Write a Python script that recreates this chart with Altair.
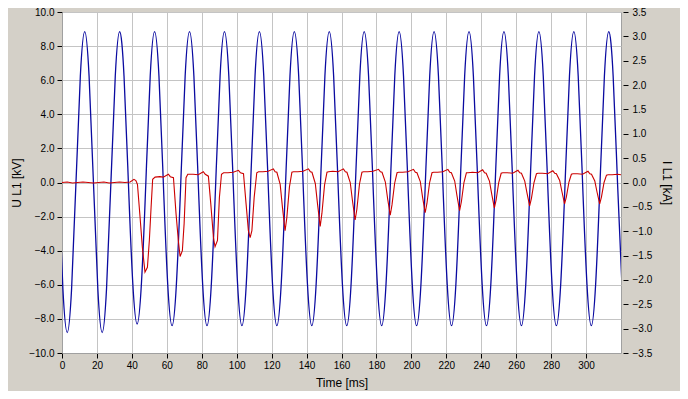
import altair as alt
import pandas as pd

# ---- Voltage U L1 [kV] (blue), samples every 2.5 ms ----
u_time = [
    -2, 0.5, 3, 5.5, 8, 10.5, 13, 15.5,
    18, 20.5, 23, 25.5, 28, 30.5, 33, 35.5,
    38, 40.5, 43, 45.5, 48, 50.5, 53, 55.5,
    58, 60.5, 63, 65.5, 68, 70.5, 73, 75.5,
    78, 80.5, 83, 85.5, 88, 90.5, 93, 95.5,
    98, 100.5, 103, 105.5, 108, 110.5, 113, 115.5,
    118, 120.5, 123, 125.5, 128, 130.5, 133, 135.5,
    138, 140.5, 143, 145.5, 148, 150.5, 153, 155.5,
    158, 160.5, 163, 165.5, 168, 170.5, 173, 175.5,
    178, 180.5, 183, 185.5, 188, 190.5, 193, 195.5,
    198, 200.5, 203, 205.5, 208, 210.5, 213, 215.5,
    218, 220.5, 223, 225.5, 228, 230.5, 233, 235.5,
    238, 240.5, 243, 245.5, 248, 250.5, 253, 255.5,
    258, 260.5, 263, 265.5, 268, 270.5, 273, 275.5,
    278, 280.5, 283, 285.5, 288, 290.5, 293, 295.5,
    298, 300.5, 303, 305.5, 308, 310.5, 313, 315.5,
    318, 320.5,
]
u_value = [
    0, -6.22, -8.8, -6.22, 0, 6.25, 8.85, 6.25,
    0, -6.22, -8.8, -6.22, 0, 6.25, 8.85, 6.25,
    0, -5.87, -8.3, -5.87, 0, 6.25, 8.85, 6.25,
    0, -5.94, -8.4, -5.94, 0, 6.25, 8.85, 6.25,
    0, -5.94, -8.4, -5.94, 0, 6.25, 8.85, 6.25,
    0, -5.94, -8.4, -5.94, 0, 6.25, 8.85, 6.25,
    0, -5.94, -8.4, -5.94, 0, 6.25, 8.85, 6.25,
    0, -5.94, -8.4, -5.94, 0, 6.25, 8.85, 6.25,
    0, -5.94, -8.4, -5.94, 0, 6.25, 8.85, 6.25,
    0, -5.94, -8.4, -5.94, 0, 6.25, 8.85, 6.25,
    0, -5.94, -8.4, -5.94, 0, 6.25, 8.85, 6.25,
    0, -5.94, -8.4, -5.94, 0, 6.25, 8.85, 6.25,
    0, -5.94, -8.4, -5.94, 0, 6.25, 8.85, 6.25,
    0, -5.94, -8.4, -5.94, 0, 6.25, 8.85, 6.25,
    0, -5.94, -8.4, -5.94, 0, 6.25, 8.85, 6.25,
    0, -5.94, -8.4, -5.94, 0, 6.25, 8.85, 6.25,
    0, -5.94,
]

# ---- Current I L1 [kA] (red) ----
i_time = [
    0, 3, 6, 9, 12, 15, 18, 21, 24, 27, 30, 33, 36, 39,
    41.2, 42.3, 43.2, 44.7, 46.0, 47.5, 48.9, 50.0, 51.0, 51.9, 53.3, 56, 58,
    60.9, 62.0, 63.8, 65.3, 66.6, 67.6, 68.9, 69.9, 71.0, 72.0, 75, 78,
    80.9, 82.0, 83.8, 85.2, 86.7, 87.6, 89.0, 90.1, 91.3, 92.5, 95, 98,
    101.0, 102.2, 103.9, 105.4, 106.7, 107.7, 108.7, 110.0, 111.5, 112.5, 115, 118,
    121.0, 122.0, 123.0, 124.9, 126.2, 127.7, 128.7, 130.2, 131.6, 132.5, 135, 138,
    141.1, 142.2, 143.1, 145.0, 146.3, 147.8, 148.8, 150.3, 151.7, 152.6, 155, 158,
    161.1, 162.2, 163.1, 165.0, 166.3, 167.8, 168.8, 170.3, 171.7, 172.6, 175, 178,
    181.2, 182.3, 183.2, 185.1, 186.4, 187.9, 188.9, 190.4, 191.8, 192.7, 195, 198,
    201.2, 202.3, 203.2, 205.1, 206.4, 207.9, 208.9, 210.4, 211.8, 212.7, 215, 218,
    220.9, 222.0, 222.9, 224.8, 226.1, 227.6, 228.6, 230.1, 231.5, 232.4, 235, 238,
    240.8, 241.9, 242.8, 244.7, 246.0, 247.5, 248.5, 250.0, 251.4, 252.3, 255, 258,
    261.0, 262.1, 263.0, 264.9, 266.2, 267.7, 268.7, 270.2, 271.6, 272.5, 275, 278,
    281.0, 282.1, 283.0, 284.9, 286.2, 287.7, 288.7, 290.2, 291.6, 292.5, 295, 298,
    301.1, 302.2, 303.1, 305.0, 306.3, 307.8, 308.8, 310.3, 311.7, 312.6, 315, 318, 320,
]
i_value = [
    0, 0.01, -0.01, 0, 0.01, 0, -0.01, 0, 0.01, -0.01, 0, 0.01, 0, 0.01,
    0.065, 0.04, -0.04, -0.72, -1.33, -1.84, -1.74, -1.19, -0.51, 0.065, 0.11, 0.12, 0.11,
    0.17, 0.12, 0.10, -0.65, -1.19, -1.52, -1.40, -0.85, 0.10, 0.17, 0.17, 0.16,
    0.22, 0.17, 0.13, -0.45, -1.13, -1.32, -1.19, -0.31, 0.17, 0.20, 0.20, 0.21,
    0.25, 0.20, 0.18, -0.45, -0.99, -1.13, -0.99, -0.31, 0.20, 0.22, 0.22, 0.23,
    0.28, 0.22, 0.21, -0.04, -0.51, -0.99, -0.72, -0.09, 0.21, 0.22, 0.22, 0.23,
    0.28, 0.22, 0.21, -0.02, -0.45, -0.90, -0.63, -0.05, 0.21, 0.22, 0.23, 0.22,
    0.28, 0.22, 0.21, 0.0, -0.38, -0.77, -0.55, -0.03, 0.21, 0.22, 0.22, 0.23,
    0.27, 0.22, 0.21, 0.01, -0.33, -0.67, -0.46, -0.02, 0.20, 0.21, 0.21, 0.22,
    0.27, 0.21, 0.20, 0.02, -0.30, -0.62, -0.43, -0.01, 0.20, 0.21, 0.21, 0.22,
    0.27, 0.21, 0.20, 0.03, -0.27, -0.58, -0.40, 0.0, 0.20, 0.20, 0.21, 0.20,
    0.26, 0.20, 0.19, 0.03, -0.24, -0.52, -0.36, 0.0, 0.19, 0.20, 0.20, 0.19,
    0.25, 0.20, 0.19, 0.03, -0.22, -0.48, -0.33, 0.0, 0.18, 0.19, 0.19, 0.18,
    0.24, 0.19, 0.18, 0.04, -0.19, -0.44, -0.30, 0.01, 0.17, 0.18, 0.18, 0.17,
    0.23, 0.18, 0.17, 0.03, -0.20, -0.44, -0.30, 0.0, 0.15, 0.16, 0.16, 0.17, 0.16,
]

x_ticks = [0, 20, 40, 60, 80, 100, 120, 140, 160, 180, 200, 220, 240, 260, 280, 300]
u_ticks = [-10, -8, -6, -4, -2, 0, 2, 4, 6, 8, 10]
i_ticks = [-3.5, -3.0, -2.5, -2.0, -1.5, -1.0, -0.5, 0.0, 0.5, 1.0, 1.5, 2.0, 2.5, 3.0, 3.5]

u_df = pd.DataFrame({"t": u_time, "u": u_value})
i_df = pd.DataFrame({"t": i_time, "i": i_value})

FONT = "Liberation Sans"
PLOT_H = 341

x_enc = alt.X(
    "t:Q",
    scale=alt.Scale(domain=[0, 320], nice=False, zero=False),
    axis=alt.Axis(
        values=x_ticks, title="Time [ms]", grid=True, gridColor="#C4C4C4",
        domainColor="#A0A0A0", tickColor="black", tickSize=5, labelPadding=2,
        labelFlush=False, labelOverlap=False, titlePadding=7,
    ),
)

blue = alt.Chart(u_df).mark_line(
    color="#0A0AA0", strokeWidth=1.3, interpolate="natural", clip=True
).encode(
    x=x_enc,
    y=alt.Y(
        "u:Q",
        scale=alt.Scale(domain=[-10, 10], nice=False),
        axis=alt.Axis(
            orient="left", values=u_ticks, format=".1f", title="U L1 [kV]",
            grid=True, gridColor="#C4C4C4", domainColor="#A0A0A0",
            tickColor="black", tickSize=5, labelPadding=3, labelFlush=False,
            labelOverlap=False, titleX=-46, titleY=PLOT_H / 2,
            titleAlign="center", titleBaseline="middle", titleAngle=-90,
        ),
    ),
)

red = alt.Chart(i_df).mark_line(
    color="#CC0000", strokeWidth=1.1, clip=True
).encode(
    x=x_enc,
    y=alt.Y(
        "i:Q",
        scale=alt.Scale(domain=[-3.5, 3.5], nice=False),
        axis=alt.Axis(
            orient="right", values=i_ticks, format=".1f", title="I L1 [kA]",
            grid=False, domain=False, offset=2, tickColor="black", tickSize=5,
            labelPadding=4, labelFlush=False, labelOverlap=False,
            titleX=43, titleY=PLOT_H / 2, titleAlign="center",
            titleBaseline="middle", titleAngle=90,
        ),
    ),
)

chart = (
    alt.layer(blue, red)
    .resolve_scale(y="independent")
    .properties(
        width=559,
        height=PLOT_H,
        background="#D4D0C8",
        padding={"left": 54, "top": 4, "right": 59, "bottom": 38},
        autosize=alt.AutoSizeParams(type="none"),
    )
    .configure_view(fill="white", stroke="#A0A0A0", strokeWidth=1)
    .configure_axis(
        labelFont=FONT, labelFontSize=10, labelColor="black",
        titleFont=FONT, titleFontSize=12, titleFontWeight="normal", titleColor="black",
    )
)

chart.save("out.html", embed_options={"renderer": "svg", "actions": False})
